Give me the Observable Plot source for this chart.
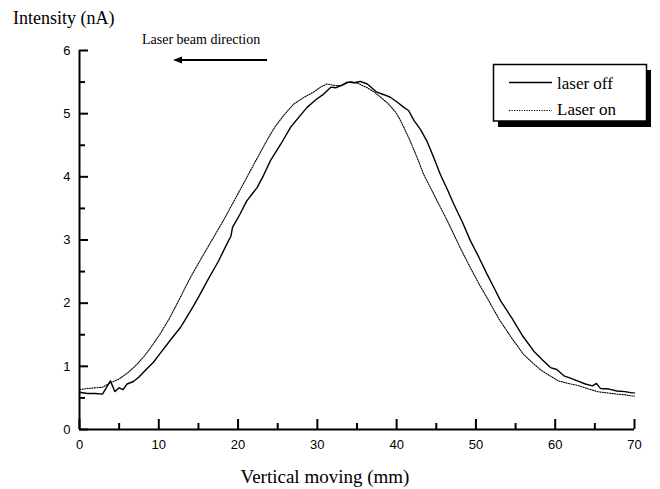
<!DOCTYPE html>
<html><head><meta charset="utf-8">
<script src="https://cdn.jsdelivr.net/npm/d3@7"></script>
<script src="https://cdn.jsdelivr.net/npm/@observablehq/plot@0.6"></script>
<style>
body{margin:0;background:#fff;}
#chart{position:relative;width:660px;height:489px;}
</style>
</head><body><div id="chart"></div>
<script>
// ---- data ----
const offX = [0, 1, 2, 2.9, 3.9, 4.45, 5, 5.5, 6, 6.8, 7.5, 8.5, 9.3, 10.2, 11.5, 12.7, 13.4, 14.4, 15.2, 16.1, 17.5, 18.8, 19.1, 19.3, 20.2, 21.1, 22.4, 23.2, 24.1, 25.4, 26.6, 27.7, 28.7, 29.8, 30.8, 31.7, 32.3, 32.9, 33.8, 34.6, 35.4, 36.3, 37.5, 38.4, 39.2, 40.1, 40.9, 41.5, 42.2, 43.0, 43.8, 44.7, 45.5, 46.4, 47.2, 48.3, 49.3, 50.4, 51.4, 52.3, 53.1, 54.6, 55.9, 57.3, 58.4, 59.4, 60.2, 61.1, 62.0, 62.8, 63.8, 64.7, 65.2, 65.7, 66.8, 67.8, 68.8, 69.7, 70];
const offY = [0.59, 0.57, 0.57, 0.56, 0.77, 0.60, 0.66, 0.63, 0.72, 0.76, 0.83, 0.96, 1.06, 1.21, 1.42, 1.61, 1.75, 1.96, 2.14, 2.35, 2.66, 2.99, 3.06, 3.20, 3.40, 3.62, 3.83, 4.02, 4.26, 4.52, 4.78, 4.95, 5.10, 5.22, 5.31, 5.42, 5.41, 5.44, 5.50, 5.49, 5.51, 5.47, 5.34, 5.30, 5.26, 5.18, 5.10, 5.05, 4.89, 4.75, 4.57, 4.30, 4.04, 3.80, 3.57, 3.28, 2.99, 2.72, 2.46, 2.24, 2.04, 1.75, 1.48, 1.24, 1.10, 0.98, 0.95, 0.85, 0.81, 0.77, 0.72, 0.69, 0.73, 0.65, 0.64, 0.61, 0.60, 0.58, 0.58];
const onX = [0, 1, 2, 2.9, 3.9, 5, 6, 7, 8.1, 9, 10.2, 11.3, 12.3, 14.0, 15.5, 16.9, 18.2, 19.5, 20.8, 22.0, 23.3, 24.3, 24.7, 25.8, 27.0, 28.2, 29.5, 30.4, 31.2, 32.0, 33.0, 34.2, 35.3, 36.3, 37.2, 38.0, 39.0, 39.9, 40.5, 41.7, 42.6, 43.4, 44.3, 45.1, 46.0, 46.8, 48.0, 49.3, 50.5, 51.7, 52.9, 54.5, 56.0, 57.1, 58.1, 59.2, 60.4, 61.6, 62.8, 64.0, 65.3, 66.5, 67.8, 68.8, 69.7, 70];
const onY = [0.63, 0.65, 0.66, 0.67, 0.74, 0.80, 0.89, 1.00, 1.15, 1.30, 1.52, 1.75, 1.99, 2.41, 2.74, 3.04, 3.32, 3.62, 3.92, 4.20, 4.50, 4.72, 4.80, 4.98, 5.15, 5.25, 5.34, 5.42, 5.47, 5.45, 5.44, 5.51, 5.47, 5.41, 5.34, 5.26, 5.15, 5.02, 4.89, 4.57, 4.30, 4.04, 3.82, 3.62, 3.40, 3.20, 2.88, 2.56, 2.28, 2.02, 1.75, 1.45, 1.19, 1.06, 0.95, 0.86, 0.77, 0.73, 0.70, 0.65, 0.60, 0.58, 0.56, 0.55, 0.53, 0.53];
const seriesNames = ["laser off", "Laser on"];
const xMajorTicks = [0, 10, 20, 30, 40, 50, 60, 70];
const xMinorTicks = [5, 15, 25, 35, 45, 55, 65];
const yMajorTicks = [0, 1, 2, 3, 4, 5, 6];
const yMinorTicks = [0.5, 1.5, 2.5, 3.5, 4.5, 5.5];
const yTitle = "Intensity (nA)";
const xTitle = "Vertical moving (mm)";
const noteText = "Laser beam direction";

// ---- build ----
const off = offX.map((x, i) => ({x, y: offY[i], s: seriesNames[0]}));
const on = onX.map((x, i) => ({x, y: onY[i], s: seriesNames[1]}));

const W = 660, H = 489;
const mL = 79, mR = 26, mT = 50, mB = 60;
const frameW = W - mL - mR, frameH = H - mT - mB;
const fmt = d => String(d);
const plot = Plot.plot({
  width: W, height: H,
  marginLeft: mL, marginRight: mR, marginTop: mT, marginBottom: mB,
  x: {domain: [0, 70]},
  y: {domain: [0, 6]},
  style: {fontFamily: "'Liberation Sans', Arial, sans-serif", fontSize: "13px", color: "#000", background: "#fff"},
  marks: [
    Plot.axisX(xMajorTicks, {tickSize: 0, tickPadding: 10, label: null, fontSize: 13, tickFormat: fmt}),
    Plot.axisY(yMajorTicks, {tickSize: 0, tickPadding: 9, label: null, fontSize: 13, tickFormat: fmt}),
    // inward ticks
    Plot.tickX(xMajorTicks, {x: d => d, stroke: "#000", strokeWidth: 2, insetTop: frameH - 10}),
    Plot.tickX(xMinorTicks, {x: d => d, stroke: "#000", strokeWidth: 2, insetTop: frameH - 6}),
    Plot.tickY(yMajorTicks, {y: d => d, stroke: "#000", strokeWidth: 2, insetRight: frameW - 9}),
    Plot.tickY(yMinorTicks, {y: d => d, stroke: "#000", strokeWidth: 2, insetRight: frameW - 6}),
    Plot.ruleX([0], {strokeWidth: 2}),
    Plot.ruleY([0], {strokeWidth: 2}),
    Plot.line(on, {x: "x", y: "y", stroke: "#000", strokeWidth: 1.1, strokeDasharray: "1.2,1.3"}),
    Plot.line(off, {x: "x", y: "y", stroke: "#000", strokeWidth: 1.4})
  ]
});
document.getElementById("chart").appendChild(plot);

const svg = d3.select(plot);
const serif = "'Liberation Serif', 'Times New Roman', serif";
const txt = (sel, x, y, size, s, anchor) => sel.append("text").attr("x", x).attr("y", y)
  .attr("text-anchor", anchor || "start").attr("font-family", serif).attr("font-size", size).attr("fill", "#000").text(s);
// y title
txt(svg, 13, 23.5, 18, yTitle);
// x title
txt(svg, 325, 483, 19, xTitle, "middle");
// annotation
txt(svg, 142, 44.3, 14, noteText);
svg.append("line").attr("x1", 267).attr("x2", 180).attr("y1", 60).attr("y2", 60).attr("stroke", "#000").attr("stroke-width", 2);
svg.append("path").attr("d", "M173,60 L182,56.5 L182,63.5 Z").attr("fill", "#000");
// legend
const lg = svg.append("g");
lg.append("rect").attr("x", 498).attr("y", 70).attr("width", 153).attr("height", 57).attr("fill", "#000");
lg.append("rect").attr("x", 493.5).attr("y", 64.5).attr("width", 153).attr("height", 56.5).attr("fill", "#fff").attr("stroke", "#000").attr("stroke-width", 1.5);
lg.append("line").attr("x1", 509).attr("x2", 552).attr("y1", 82.5).attr("y2", 82.5).attr("stroke", "#000").attr("stroke-width", 1.3);
lg.append("line").attr("x1", 509).attr("x2", 552).attr("y1", 110.5).attr("y2", 110.5).attr("stroke", "#000").attr("stroke-width", 1).attr("stroke-dasharray", "1.2,1.3");
txt(lg, 557, 89, 17, seriesNames[0]);
txt(lg, 557, 115, 17, seriesNames[1]);
</script>
</body></html>
